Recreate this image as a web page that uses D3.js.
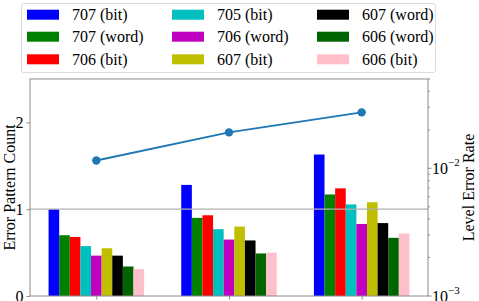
<!DOCTYPE html>
<html><head><meta charset="utf-8">
<script src="https://cdn.jsdelivr.net/npm/d3@7"></script>
<style>body{margin:0;background:#fff}svg{display:block}svg text{font-family:"Liberation Serif","Times New Roman","DejaVu Serif",serif !important}</style>
</head><body><svg id="c" width="479" height="301"></svg>
<script>
const categories = ["4000", "7000", "10000"];
const seriesNames = ["707 (bit)", "707 (word)", "706 (bit)", "705 (bit)", "706 (word)", "607 (bit)", "607 (word)", "606 (word)", "606 (bit)"];
const seriesColors = ["#0000ff", "#008000", "#ff0000", "#00bfbf", "#bf00bf", "#bfbf00", "#000000", "#006400", "#ffc0cb"];
const v707bit  = [1.00, 1.28, 1.63];
const v707word = [0.70, 0.90, 1.17];
const v706bit  = [0.68, 0.93, 1.24];
const v705bit  = [0.575, 0.77, 1.055];
const v706word = [0.465, 0.65, 0.83];
const v607bit  = [0.55, 0.80, 1.08];
const v607word = [0.465, 0.64, 0.84];
const v606word = [0.34, 0.49, 0.67];
const v606bit  = [0.31, 0.50, 0.72];
const levelErrorRate = [0.0115, 0.0191, 0.0274];
const leftTicks = [0, 1, 2];
const rightMajor = [0.001, 0.01];

const seriesValues = [v707bit, v707word, v706bit, v705bit, v706word, v607bit, v607word, v606word, v606bit];
const FF = "Liberation Serif, Times New Roman, serif";

const svg = d3.select("#c");
const L = 30, R = 428, T = 79, B = 296;
const x = d3.scaleLinear().domain([-0.5, 2.5]).range([L, R]);
const y = d3.scaleLinear().domain([0, 2.5]).range([B, T]);
const y2 = d3.scaleLog().domain([0.001, 0.05]).range([B, T]);
const bw = 0.08;
const n = seriesNames.length;

// bars
seriesValues.forEach((vals, s) => {
  svg.append("g").selectAll("rect").data(vals).join("rect")
    .attr("x", (d, i) => x(i + (s - n / 2) * bw))
    .attr("width", x(bw) - x(0))
    .attr("y", d => y(d))
    .attr("height", d => y(0) - y(d))
    .attr("fill", seriesColors[s]);
});

// reference line at 1
svg.append("line").attr("x1", L).attr("x2", R).attr("y1", y(1)).attr("y2", y(1))
  .attr("stroke", "#b0b0b0").attr("stroke-width", 1.2);

// line on right axis
const line = d3.line().x((d, i) => x(i)).y(d => y2(d));
svg.append("path").datum(levelErrorRate).attr("d", line)
  .attr("fill", "none").attr("stroke", "#1f77b4").attr("stroke-width", 2);
svg.append("g").selectAll("circle").data(levelErrorRate).join("circle")
  .attr("cx", (d, i) => x(i)).attr("cy", d => y2(d)).attr("r", 4.2).attr("fill", "#1f77b4");

// frame
svg.append("rect").attr("x", L).attr("y", T).attr("width", R - L).attr("height", B - T)
  .attr("fill", "none").attr("stroke", "#8c8c8c").attr("stroke-width", 1);

// left axis
const la = svg.append("g").attr("transform", `translate(${L},0)`)
  .call(d3.axisLeft(y).tickValues(leftTicks).tickFormat(d3.format("d")).tickSize(3.5).tickPadding(3));
la.attr("font-family", FF);
la.select(".domain").remove();
la.selectAll("line").attr("stroke", "#8c8c8c");
la.selectAll("text").attr("font-size", 16).attr("fill", "#000");

// bottom axis
const ba = svg.append("g").attr("transform", `translate(0,${B})`)
  .call(d3.axisBottom(x).tickValues([0, 1, 2]).tickFormat(i => categories[i]).tickSize(3.5).tickPadding(2));
ba.attr("font-family", FF);
ba.select(".domain").remove();
ba.selectAll("line").attr("stroke", "#8c8c8c");
ba.selectAll("text").attr("font-size", 16).attr("fill", "#000");

// right axis (log)
const minor = [];
for (let e = -3; e <= -2; e++) for (let m = 2; m <= 9; m++) { const v = m * Math.pow(10, e); if (v <= 0.05) minor.push(v); }
const ra = svg.append("g").attr("transform", `translate(${R},0)`).attr("font-family", FF);
ra.selectAll("line.mi").data(minor).join("line").attr("class", "mi")
  .attr("x1", 0).attr("x2", 2).attr("y1", d => y2(d)).attr("y2", d => y2(d)).attr("stroke", "#8c8c8c");
ra.selectAll("line.ma").data(rightMajor).join("line").attr("class", "ma")
  .attr("x1", 0).attr("x2", 3.5).attr("y1", d => y2(d)).attr("y2", d => y2(d)).attr("stroke", "#8c8c8c");
const rt = ra.selectAll("text.lab").data(rightMajor).join("text").attr("class", "lab")
  .attr("x", 4).attr("y", d => y2(d) + 6).attr("font-size", 16).attr("fill", "#000");
rt.append("tspan").text("10");
rt.append("tspan").attr("dy", -8).attr("font-size", 11).text(d => "\u2212" + (-Math.round(Math.log10(d))));

// axis titles
svg.append("text").attr("transform", `translate(15,${(T + B) / 2}) rotate(-90)`).attr("font-family", FF)
  .attr("text-anchor", "middle").attr("font-size", 16).attr("fill", "#000").text("Error Pattern Count");
svg.append("text").attr("transform", `translate(474,${(T + B) / 2}) rotate(-90)`).attr("font-family", FF)
  .attr("text-anchor", "middle").attr("font-size", 16).attr("fill", "#000").text("Level Error Rate");

// legend
const lg = svg.append("g").attr("font-family", FF);
lg.append("rect").attr("x", 21.5).attr("y", 3.5).attr("width", 414).attr("height", 69).attr("rx", 2.5)
  .attr("fill", "#fff").attr("fill-opacity", 0.85).attr("stroke", "#dcdcdc");
const colX = [27, 172, 317];
const rowY = [14.7, 36.7, 59.3];
seriesNames.forEach((name, s) => {
  const c = Math.floor(s / 3), r = s % 3;
  lg.append("rect").attr("x", colX[c]).attr("y", rowY[r] - 5).attr("width", 32).attr("height", 10)
    .attr("fill", seriesColors[s]);
  lg.append("text").attr("x", colX[c] + 45).attr("y", rowY[r] + 5.5).attr("font-size", 16)
    .attr("fill", "#000").text(name);
});
</script></body></html>
